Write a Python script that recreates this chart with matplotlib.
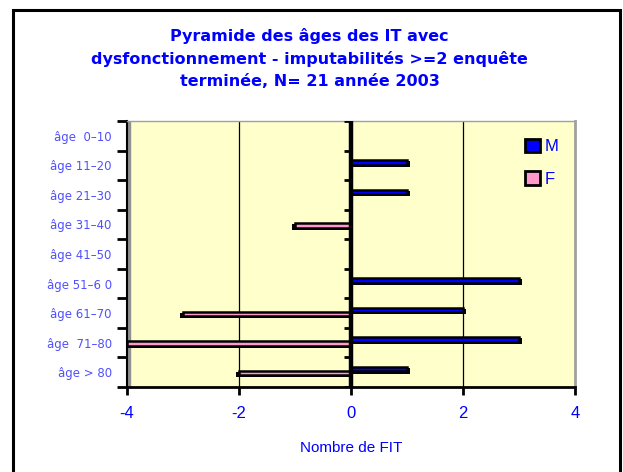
import matplotlib
matplotlib.use("Agg")
import matplotlib.pyplot as plt
import numpy as np
from matplotlib.patches import Patch, Rectangle

# age pyramid: men to the right, women to the left (negative)
ages = ["âge  0–10", "âge 11–20", "âge 21–30", "âge 31–40", "âge 41–50",
        "âge 51–6 0", "âge 61–70", "âge  71–80", "âge > 80"]
hommes = [0, 1, 1, 0, 0, 3, 2, 3, 1]
femmes = [0, 0, 0, -1, 0, 0, -3, -4, -2]
xticks = [-4, -2, 0, 2, 4]

BLUE = "#0000ff"
LABEL_BLUE = "#5050ff"
PINK = "#ff99cc"
BG = "#ffffcc"

W, H = 623, 472
fig = plt.figure(figsize=(W / 100, H / 100), dpi=100)

# outer chart frame
fig.patches.append(Rectangle((13 / W, -0.05), (620 - 13) / W, 1.05 - 10 / H,
                             transform=fig.transFigure, fill=False,
                             edgecolor="black", linewidth=2.2))

title_lines = ["Pyramide des âges des IT avec",
               "dysfonctionnement - imputabilités >=2 enquête",
               "terminée, N= 21 année 2003"]
for ty, line in zip((36, 59, 82), title_lines):
    fig.text(0.497, 1 - ty / H, line, ha="center", va="center", color=BLUE,
             fontsize=11.5, fontweight="bold", family="DejaVu Sans")

ax = fig.add_axes([127 / W, 1 - 387 / H, (575 - 127) / W, (387 - 121) / H])
ax.set_facecolor(BG)
ax.set_xlim(-4, 4)
ax.set_ylim(len(ages), 0)

y = np.arange(len(ages)) + 0.5
h = np.array(hommes, float)
f = np.array(femmes, float)

# dark drop shadow under each bar (3D look)
ax.barh(y - 0.05, h + np.sign(h) * 0.05, height=0.19, color="black", lw=0, zorder=3)
ax.barh(y + 0.08, f + np.sign(f) * 0.05, height=0.19, color="black", lw=0, zorder=3)
ax.barh(y - 0.1, h, height=0.15, color=BLUE, edgecolor="black", linewidth=1.8, zorder=3)
ax.barh(y + 0.03, f, height=0.15, color=PINK, edgecolor="black", linewidth=1.8, zorder=3)

# grid and zero axis
for gx in (-2, 2):
    ax.axvline(gx, color="black", lw=0.9, zorder=1)
ax.axvline(0, color="black", lw=3.2, zorder=4)
ax.hlines(np.arange(len(ages) + 1), -0.13, 0, color="black", lw=2, zorder=4)
ax.axvspan(-4, -3.94, color="#909090", zorder=2)

# spines
ax.spines["left"].set_linewidth(1.5)
ax.spines["bottom"].set_linewidth(2)
ax.spines["top"].set_color("#a0a0a0")
ax.spines["top"].set_linewidth(1)
ax.spines["right"].set_color("#a0a0a0")
ax.spines["right"].set_linewidth(2)

ax.set_yticks(np.arange(len(ages) + 1))
ax.set_yticklabels([])
ax.set_yticks(y, minor=True)
ax.set_yticklabels(ages, minor=True, color=LABEL_BLUE, fontsize=8.5)
ax.tick_params(axis="y", which="major", length=7, width=2, direction="out")
ax.tick_params(axis="y", which="minor", length=0, pad=11)

ax.set_xticks(xticks)
ax.set_xticklabels([str(v) for v in xticks], color=BLUE, fontsize=12,
                   family="Liberation Sans")
ax.tick_params(axis="x", length=6, width=2, pad=8)
ax.set_xlabel("Nombre de FIT", color=BLUE, fontsize=11, family="Liberation Sans",
              labelpad=14)

handles = [Patch(facecolor=BLUE, edgecolor="black", linewidth=2, label="M"),
           Patch(facecolor=PINK, edgecolor="black", linewidth=2, label="F")]
leg = ax.legend(handles=handles, loc="upper left", bbox_to_anchor=(0.855, 0.99),
                frameon=False, handlelength=0.9, handleheight=0.9, handletextpad=0.3,
                labelspacing=1.0, prop={"family": "Liberation Sans", "size": 12})
for t in leg.get_texts():
    t.set_color(BLUE)

fig.savefig("out.png", dpi=100)
